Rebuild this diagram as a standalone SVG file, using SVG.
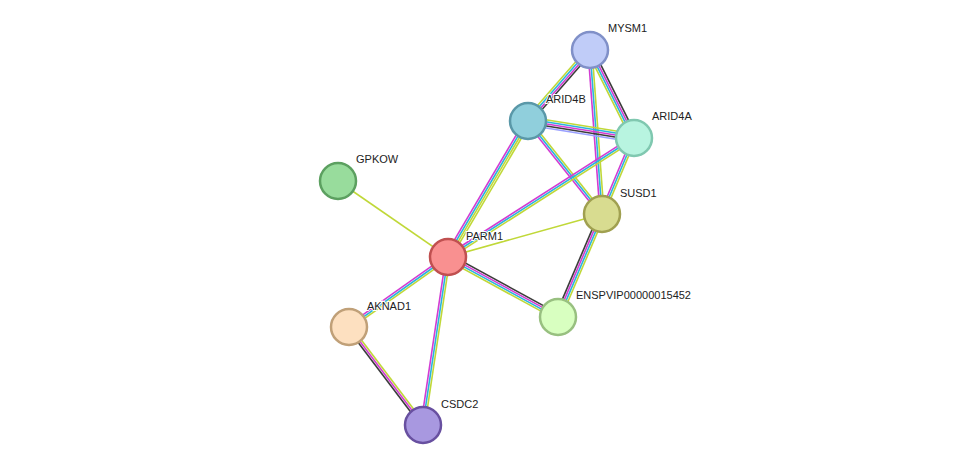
<svg xmlns="http://www.w3.org/2000/svg" width="976" height="471" viewBox="0 0 976 471">
<style>
.k{stroke:#3c3c3c}.m{stroke:#d23cd2}.c{stroke:#2ab4dc}.y{stroke:#c0d838}.b{stroke:#9aa0ff}
#edges line{stroke-width:1.6;fill:none}
circle{stroke-width:2.5}
text{font-family:"Liberation Sans",Arial,sans-serif;font-size:11px;fill:#222;paint-order:stroke;stroke:#fff;stroke-width:2px}
</style>
<rect width="976" height="471" fill="#fff"/>
<g id="edges">
<g transform="translate(590,50) rotate(131.1)"><line class="k" x2="94.3" y1="-3" y2="-3"/><line class="m" x2="94.3" y1="-1" y2="-1"/><line class="c" x2="94.3" y1="1" y2="1"/><line class="y" x2="94.3" y1="3" y2="3"/></g>
<g transform="translate(590,50) rotate(63.4)"><line class="k" x2="98.4" y1="-3" y2="-3"/><line class="m" x2="98.4" y1="-1" y2="-1"/><line class="c" x2="98.4" y1="1" y2="1"/><line class="y" x2="98.4" y1="3" y2="3"/></g>
<g transform="translate(590,50) rotate(85.8)"><line class="y" x2="164.4" y1="-2" y2="-2"/><line class="c" x2="164.4"/><line class="m" x2="164.4" y1="2" y2="2"/></g>
<g transform="translate(528,121) rotate(9.1)"><line class="y" x2="107.4" y1="-4" y2="-4"/><line class="c" x2="107.4" y1="-2" y2="-2"/><line class="m" x2="107.4"/><line class="k" x2="107.4" y1="2" y2="2"/><line class="b" x2="107.4" y1="4" y2="4"/></g>
<g transform="translate(528,121) rotate(51.5)"><line class="y" x2="118.8" y1="-2" y2="-2"/><line class="c" x2="118.8"/><line class="m" x2="118.8" y1="2" y2="2"/></g>
<g transform="translate(528,121) rotate(120.5)"><line class="y" x2="157.8" y1="-3" y2="-3"/><line class="y" x2="157.8" y1="-1" y2="-1"/><line class="c" x2="157.8" y1="1" y2="1"/><line class="m" x2="157.8" y1="3" y2="3"/></g>
<g transform="translate(634,138) rotate(112.8)"><line class="y" x2="82.5" y1="-2" y2="-2"/><line class="c" x2="82.5"/><line class="m" x2="82.5" y1="2" y2="2"/></g>
<g transform="translate(634,138) rotate(147.4)"><line class="y" x2="220.8" y1="-2" y2="-2"/><line class="c" x2="220.8"/><line class="m" x2="220.8" y1="2" y2="2"/></g>
<line class="y" x1="602" y1="214" x2="448" y2="257"/>
<line class="y" x1="338" y1="181" x2="448" y2="257"/>
<g transform="translate(448,257) rotate(28.6)"><line class="k" x2="125.3" y1="-3" y2="-3"/><line class="m" x2="125.3" y1="-1" y2="-1"/><line class="c" x2="125.3" y1="1" y2="1"/><line class="y" x2="125.3" y1="3" y2="3"/></g>
<g transform="translate(602,214) rotate(113.1)"><line class="y" x2="112" y1="-3" y2="-3"/><line class="c" x2="112" y1="-1" y2="-1"/><line class="m" x2="112" y1="1" y2="1"/><line class="k" x2="112" y1="3" y2="3"/></g>
<g transform="translate(448,257) rotate(144.7)"><line class="y" x2="121.2" y1="-2" y2="-2"/><line class="c" x2="121.2"/><line class="m" x2="121.2" y1="2" y2="2"/></g>
<g transform="translate(448,257) rotate(98.5)"><line class="y" x2="169.8" y1="-2" y2="-2"/><line class="c" x2="169.8"/><line class="m" x2="169.8" y1="2" y2="2"/></g>
<g transform="translate(349,327) rotate(52.9)"><line class="y" x2="122.8" y1="-2" y2="-2"/><line class="m" x2="122.8"/><line class="k" x2="122.8" y1="2" y2="2"/></g>
</g>
<g id="MYSM1"><circle cx="590" cy="50" r="18" fill="#c0ccf8" stroke="#8090c8"/><text x="608" y="32">MYSM1</text></g>
<g id="ARID4B"><circle cx="528" cy="121" r="18" fill="#90cfdc" stroke="#5a98a8"/><text x="546" y="103">ARID4B</text></g>
<g id="ARID4A"><circle cx="634" cy="138" r="18" fill="#b8f4e0" stroke="#80c8b0"/><text x="652" y="120">ARID4A</text></g>
<g id="GPKOW"><circle cx="338" cy="181" r="18" fill="#98dc9c" stroke="#5ca060"/><text x="356" y="163">GPKOW</text></g>
<g id="SUSD1"><circle cx="602" cy="214" r="18" fill="#d8dc90" stroke="#a0a050"/><text x="620" y="197">SUSD1</text></g>
<g id="PARM1"><circle cx="448" cy="257" r="18" fill="#f99090" stroke="#c05050"/><text x="466" y="240">PARM1</text></g>
<g id="AKNAD1"><circle cx="349" cy="327" r="18" fill="#fde0c0" stroke="#c0a078"/><text x="367" y="310">AKNAD1</text></g>
<g id="ENSPVIP00000015452"><circle cx="558" cy="317" r="18" fill="#d8ffc0" stroke="#98c080"/><text x="576" y="299">ENSPVIP00000015452</text></g>
<g id="CSDC2"><circle cx="423" cy="425" r="18" fill="#a898e0" stroke="#6850a0"/><text x="441" y="408">CSDC2</text></g>
</svg>
